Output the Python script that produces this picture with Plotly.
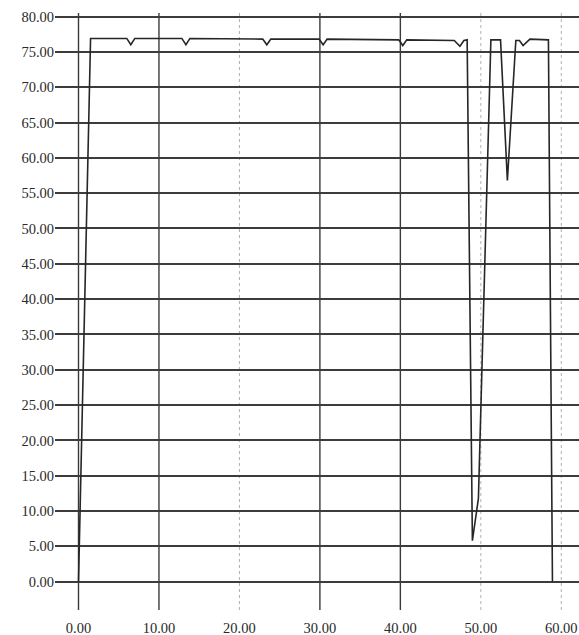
import plotly.graph_objects as go

# Data
x_vals = [0.0, 1.5, 6.0, 6.5, 7.0, 12.85, 13.35, 13.85, 22.9, 23.4, 23.9,
          29.9, 30.4, 30.9, 39.8, 40.3, 40.8, 46.7, 47.4, 47.9, 48.3,
          48.95, 49.7, 51.25, 52.45, 53.3, 54.35, 54.8, 55.25, 56.1, 58.4, 58.9]
y_vals = [0.0, 76.9, 76.9, 76.0, 76.9, 76.9, 76.0, 76.9, 76.8, 76.0, 76.8,
          76.8, 76.0, 76.8, 76.7, 75.9, 76.7, 76.6, 75.8, 76.6, 76.7,
          5.8, 11.8, 76.7, 76.7, 56.8, 76.6, 76.6, 75.9, 76.8, 76.7, 0.0]

x_ticks = [0, 10, 20, 30, 40, 50, 60]
x_tick_labels = ["0.00", "10.00", "20.00", "30.00", "40.00", "50.00", "60.00"]
y_ticks = [0, 5, 10, 15, 20, 25, 30, 35, 40, 45, 50, 55, 60, 65, 70, 75, 80]
y_tick_labels = ["%.2f" % v for v in y_ticks]
solid_vlines = [0, 10, 30, 40]
faint_vlines = [20, 50, 60]

fig = go.Figure()
fig.add_trace(go.Scatter(x=x_vals, y=y_vals, mode="lines",
                         line=dict(color="#262626", width=1.6),
                         showlegend=False, hoverinfo="skip"))

shapes = []
for xv in solid_vlines:
    shapes.append(dict(type="line", xref="x", yref="paper", x0=xv, x1=xv,
                       y0=0, y1=1, line=dict(color="#3a3a3a", width=1.4),
                       layer="below"))
for xv in faint_vlines:
    shapes.append(dict(type="line", xref="x", yref="paper", x0=xv, x1=xv,
                       y0=0, y1=1, line=dict(color="#b0b0b0", width=1, dash="dot"),
                       layer="below"))

font_family = "Liberation Serif, Times New Roman, serif"
fig.update_layout(
    width=579, height=635,
    margin=dict(l=55, r=0, t=13, b=25, autoexpand=False),
    paper_bgcolor="white", plot_bgcolor="white",
    font=dict(family=font_family, size=14.5, color="#2a2a2a"),
    shapes=shapes,
    xaxis=dict(range=[-2.92, 62.2], tickvals=x_ticks, ticktext=x_tick_labels,
               showgrid=False, zeroline=False, showline=False,
               ticks="outside", ticklen=5, tickcolor="rgba(0,0,0,0)",
               automargin=False, fixedrange=True),
    yaxis=dict(range=[-4.0, 80.5], tickvals=y_ticks, ticktext=y_tick_labels,
               showgrid=True, gridcolor="#3c3c3c", gridwidth=1.5,
               zeroline=False, showline=False, ticks="",
               automargin=False, fixedrange=True),
)

fig.write_html("out.html", config={"displayModeBar": False},
               post_script="document.body.style.margin='0';document.body.style.overflow='hidden';")
